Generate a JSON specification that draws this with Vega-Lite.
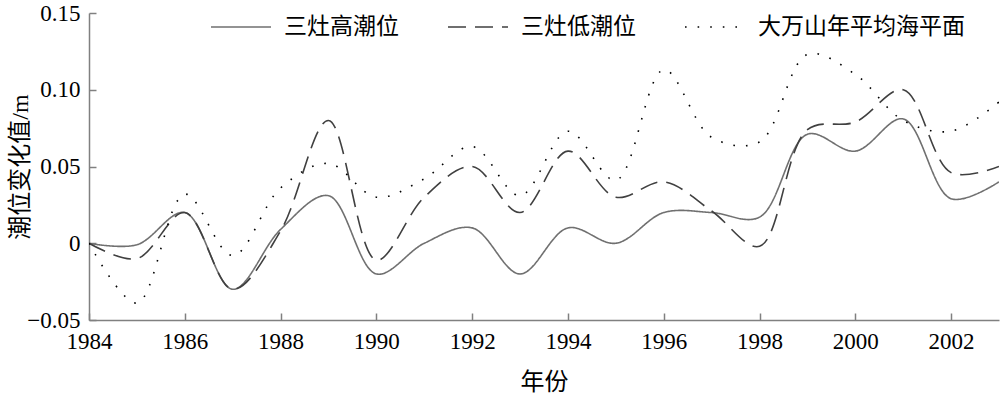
{
  "$schema": "https://vega.github.io/schema/vega-lite/v6.json",
  "width": 910,
  "height": 307,
  "autosize": "none",
  "padding": {"left": 89, "top": 13, "right": 1, "bottom": 73},
  "background": "white",
  "config": {
    "view": {"stroke": null},
    "font": "Liberation Serif, Times New Roman, serif",
    "axis": {
      "domainColor": "#808080",
      "domainWidth": 1.5,
      "tickColor": "#808080",
      "tickWidth": 1.5,
      "grid": false,
      "labelFont": "Liberation Serif, Times New Roman, serif",
      "labelFontSize": 23,
      "labelColor": "#000000",
      "titleFont": "Liberation Serif, Noto Sans CJK SC, serif",
      "titleFontSize": 24,
      "titleFontWeight": "normal",
      "titleColor": "#000000"
    }
  },
  "data": {
    "values": [
      {"year": 1984, "series": "三灶高潮位", "value": 0},
      {"year": 1985, "series": "三灶高潮位", "value": -0.001},
      {"year": 1986, "series": "三灶高潮位", "value": 0.02},
      {"year": 1987, "series": "三灶高潮位", "value": -0.03},
      {"year": 1988, "series": "三灶高潮位", "value": 0.009},
      {"year": 1989, "series": "三灶高潮位", "value": 0.031},
      {"year": 1990, "series": "三灶高潮位", "value": -0.02},
      {"year": 1991, "series": "三灶高潮位", "value": 0},
      {"year": 1992, "series": "三灶高潮位", "value": 0.01},
      {"year": 1993, "series": "三灶高潮位", "value": -0.02},
      {"year": 1994, "series": "三灶高潮位", "value": 0.01},
      {"year": 1995, "series": "三灶高潮位", "value": 0},
      {"year": 1996, "series": "三灶高潮位", "value": 0.02},
      {"year": 1997, "series": "三灶高潮位", "value": 0.02},
      {"year": 1998, "series": "三灶高潮位", "value": 0.017},
      {"year": 1999, "series": "三灶高潮位", "value": 0.071},
      {"year": 2000, "series": "三灶高潮位", "value": 0.06},
      {"year": 2001, "series": "三灶高潮位", "value": 0.081},
      {"year": 2002, "series": "三灶高潮位", "value": 0.029},
      {"year": 2003, "series": "三灶高潮位", "value": 0.04},
      {"year": 1984, "series": "三灶低潮位", "value": 0},
      {"year": 1985, "series": "三灶低潮位", "value": -0.01},
      {"year": 1986, "series": "三灶低潮位", "value": 0.02},
      {"year": 1987, "series": "三灶低潮位", "value": -0.03},
      {"year": 1988, "series": "三灶低潮位", "value": 0.008},
      {"year": 1989, "series": "三灶低潮位", "value": 0.08},
      {"year": 1990, "series": "三灶低潮位", "value": -0.011},
      {"year": 1991, "series": "三灶低潮位", "value": 0.03},
      {"year": 1992, "series": "三灶低潮位", "value": 0.05},
      {"year": 1993, "series": "三灶低潮位", "value": 0.02},
      {"year": 1994, "series": "三灶低潮位", "value": 0.06},
      {"year": 1995, "series": "三灶低潮位", "value": 0.03},
      {"year": 1996, "series": "三灶低潮位", "value": 0.04},
      {"year": 1997, "series": "三灶低潮位", "value": 0.021},
      {"year": 1998, "series": "三灶低潮位", "value": -0.002},
      {"year": 1999, "series": "三灶低潮位", "value": 0.074},
      {"year": 2000, "series": "三灶低潮位", "value": 0.079},
      {"year": 2001, "series": "三灶低潮位", "value": 0.1},
      {"year": 2002, "series": "三灶低潮位", "value": 0.046},
      {"year": 2003, "series": "三灶低潮位", "value": 0.05},
      {"year": 1984, "series": "大万山年平均海平面", "value": 0},
      {"year": 1985, "series": "大万山年平均海平面", "value": -0.039},
      {"year": 1986, "series": "大万山年平均海平面", "value": 0.032},
      {"year": 1987, "series": "大万山年平均海平面", "value": -0.008},
      {"year": 1988, "series": "大万山年平均海平面", "value": 0.036},
      {"year": 1989, "series": "大万山年平均海平面", "value": 0.052},
      {"year": 1990, "series": "大万山年平均海平面", "value": 0.03},
      {"year": 1991, "series": "大万山年平均海平面", "value": 0.042},
      {"year": 1992, "series": "大万山年平均海平面", "value": 0.063},
      {"year": 1993, "series": "大万山年平均海平面", "value": 0.031},
      {"year": 1994, "series": "大万山年平均海平面", "value": 0.073},
      {"year": 1995, "series": "大万山年平均海平面", "value": 0.041},
      {"year": 1996, "series": "大万山年平均海平面", "value": 0.113},
      {"year": 1997, "series": "大万山年平均海平面", "value": 0.069},
      {"year": 1998, "series": "大万山年平均海平面", "value": 0.066},
      {"year": 1999, "series": "大万山年平均海平面", "value": 0.123},
      {"year": 2000, "series": "大万山年平均海平面", "value": 0.11},
      {"year": 2001, "series": "大万山年平均海平面", "value": 0.08},
      {"year": 2002, "series": "大万山年平均海平面", "value": 0.073},
      {"year": 2003, "series": "大万山年平均海平面", "value": 0.092}
    ]
  },
  "mark": {"type": "line", "interpolate": "catmull-rom", "strokeWidth": 1.6, "clip": true},
  "encoding": {
    "x": {
      "field": "year",
      "type": "quantitative",
      "scale": {"domain": [1984, 2003], "nice": false, "zero": false},
      "axis": {
        "title": "年份",
        "values": [1984, 1986, 1988, 1990, 1992, 1994, 1996, 1998, 2000, 2002],
        "format": "d",
        "tickSize": -7,
        "labelPadding": 17,
        "titlePadding": 17,
        "labelFlush": false,
        "labelFont": "Liberation Serif, Times New Roman, serif"
      }
    },
    "y": {
      "field": "value",
      "type": "quantitative",
      "scale": {"domain": [-0.05, 0.15], "nice": false},
      "axis": {
        "title": "潮位变化值/m",
        "values": [-0.05, 0, 0.05, 0.1, 0.15],
        "labelExpr": "datum.value == 0 ? '0' : format(datum.value, '.2f')",
        "tickSize": -7,
        "labelPadding": 16,
        "titleX": -69,
        "titleBaseline": "middle",
        "titleAngle": -90,
        "labelFlush": false,
        "labelFont": "Liberation Serif, Times New Roman, serif"
      }
    },
    "color": {
      "field": "series",
      "type": "nominal",
      "sort": ["三灶高潮位", "三灶低潮位", "大万山年平均海平面"],
      "scale": {"domain": ["三灶高潮位", "三灶低潮位", "大万山年平均海平面"], "range": ["#707070", "#404040", "#000000"]},
      "legend": {
        "title": null,
        "orient": "none",
        "legendX": 121,
        "legendY": -17,
        "direction": "horizontal",
        "symbolType": "stroke",
        "symbolSize": 3600,
        "symbolStrokeWidth": 1.6,
        "labelFont": "Liberation Serif, Noto Sans CJK SC, serif",
        "labelFontSize": 23,
        "labelColor": "#000000",
        "labelLimit": 400,
        "labelOffset": 12,
        "columnPadding": 45
      }
    },
    "strokeDash": {
      "field": "series",
      "type": "nominal",
      "sort": ["三灶高潮位", "三灶低潮位", "大万山年平均海平面"],
      "scale": {"domain": ["三灶高潮位", "三灶低潮位", "大万山年平均海平面"], "range": [[1, 0], [18, 9], [1.6, 11]]},
      "legend": {
        "title": null,
        "orient": "none",
        "legendX": 121,
        "legendY": -17,
        "direction": "horizontal",
        "symbolType": "stroke",
        "symbolSize": 3600,
        "symbolStrokeWidth": 1.6,
        "labelFont": "Liberation Serif, Noto Sans CJK SC, serif",
        "labelFontSize": 23,
        "labelColor": "#000000",
        "labelLimit": 400,
        "labelOffset": 12,
        "columnPadding": 45
      }
    }
  }
}
